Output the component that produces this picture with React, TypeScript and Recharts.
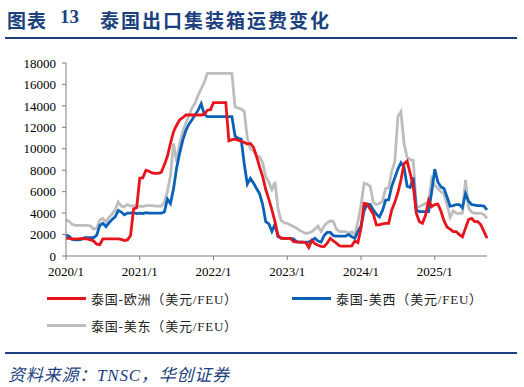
import { CartesianGrid, Line, LineChart, XAxis, YAxis } from "recharts";

// half-month steps from 2020/1 (t = months since 2020/1)
const STEP = 0.5;

const europe = [
  1650, 1650, 1600, 1600, 1600, 1650, 1600, 1600, 1500, 1400, 1100, 1050,
  1600, 1600, 1600, 1600, 1600, 1600, 1550, 1450, 1500, 1900, 4400, 4500,
  7250, 7300, 8000, 7900, 7750, 7700, 7700, 7800, 8500, 9300, 10500, 11600,
  12200, 12700, 12900, 13150, 13150, 13150, 13150, 13150, 13150, 13200, 13600, 13650,
  14300, 14300, 14300, 14300, 14300, 10750, 10850, 10900, 10800, 10700, 10600, 10450,
  10500, 10150, 9300, 8300, 7400, 6200, 5300, 4300, 3200, 1900, 1650, 1650,
  1650, 1650, 1350, 1300, 1300, 1300, 1250, 800, 1450, 1150, 1000, 900,
  880, 1200, 1650, 1400, 1200, 950, 930, 930, 930, 950, 1400, 1250,
  2600, 4900, 4850, 4350, 3900, 2900, 2900, 3000, 3050, 3050, 4300, 5000,
  5900, 7100, 8600, 8850, 7700, 6500, 4000, 3200, 3050, 3800, 5200, 4600,
  4800, 4850, 4200, 3300, 2700, 2500, 2270, 2270, 2000, 1800, 2600, 3400,
  3500, 3200, 3200, 2900, 2300, 1650,
];

const usWest = [
  1950, 1850, 1550, 1500, 1500, 1550, 1700, 1700, 1700, 1700, 1950, 2850,
  3050, 2750, 3100, 3400, 3650, 4250, 4100, 3850, 4000, 4000, 4050, 3950,
  4000, 3950, 4050, 4000, 4000, 4000, 4000, 4000, 4100, 5300, 4900, 6300,
  8200, 9600, 10800, 11700, 12300, 12700, 13150, 13600, 14200, 13200, 12990, 12990,
  12990, 12990, 12990, 12990, 12990, 12990, 12990, 11200, 10970, 10900, 8600, 6700,
  7250, 6800, 6300, 5800, 4800, 3200, 3000, 2300, 2950, 1800, 1700, 1650,
  1650, 1650, 1600, 1350, 1300, 1300, 1300, 1300, 1450, 1650, 1400, 1300,
  1900, 2200, 2200, 1900, 1860, 1860, 1860, 1860, 2000, 1800, 1650, 2300,
  2800, 4200, 4850, 4800, 4300, 3900, 3650, 4250, 5200, 5250, 6500, 7300,
  8100, 8700, 8300, 6500, 6400, 7300, 4300, 4130, 4130, 4130, 4130, 6000,
  8100, 6900, 6450, 6300, 5500, 4650, 4700, 4800, 4800, 4500, 5800, 5100,
  4800, 4750, 4700, 4700, 4650, 4300,
];

const usEast = [
  3350, 3250, 2950, 2850, 2850, 2850, 2850, 2850, 2800, 2500, 2600, 3350,
  3500, 3200, 3600, 3900, 4300, 5050, 4650, 4600, 4800, 4650, 4700, 4650,
  4650, 4600, 4700, 4700, 4700, 4650, 4650, 4650, 5000, 6000, 7500, 10500,
  8800, 10500, 11600, 12400, 13100, 13800, 14250, 15000, 15600, 16200, 17040, 17040,
  17040, 17040, 17040, 17040, 17040, 17040, 17040, 13900, 13800, 13700, 13500, 11000,
  10000, 9800, 9300, 9250, 8700, 7400, 6900, 6200, 6900, 4400, 3300, 3100,
  3050, 2900, 2750, 2600, 2400, 2250, 2100, 2150, 2270, 2500, 2800, 2300,
  2800, 3100, 3290, 3200, 2500, 2270, 2270, 2270, 2150, 2250, 2000, 3200,
  4700, 6800, 6700, 6500, 5000, 4800, 4900, 5100, 6300, 6350, 7900, 8800,
  12990, 13460, 10500, 9200, 9000, 8900, 4600, 4600, 4750, 4900, 4950, 7200,
  6600, 6300, 6000, 5800, 4800, 3600, 4200, 4000, 3950, 4000, 7100, 4500,
  4100, 3980, 3980, 3980, 3850, 3500,
];

const xTicks = [0, 12, 24, 36, 48, 60];
const xTickLabels = ["2020/1", "2021/1", "2022/1", "2023/1", "2024/1", "2025/1"];
const yTicks = [0, 2000, 4000, 6000, 8000, 10000, 12000, 14000, 16000, 18000];

const seriesNames = [
  "泰国-欧洲（美元/FEU）",
  "泰国-美西（美元/FEU）",
  "泰国-美东（美元/FEU）",
];

const RED = "#e8141c";
const BLUE = "#0a62b8";
const GREY = "#bdbdbd";
const NAVY = "#1c3f7e";

const data = europe.map((v, i) => ({
  t: i * STEP,
  europe: v,
  usWest: usWest[i],
  usEast: usEast[i],
}));

const serif = "'Liberation Serif', 'Times New Roman', 'Noto Sans CJK SC', serif";

function LegendItem({ color, label, left, top }: { color: string; label: string; left: number; top: number }) {
  return (
    <div style={{ position: "absolute", left, top, display: "flex", alignItems: "center", height: 16 }}>
      <div style={{ width: 39, height: 3, background: color, marginRight: 5 }} />
      <span style={{ fontFamily: serif, fontSize: 13, letterSpacing: 0.8, color: "#222", whiteSpace: "nowrap" }}>{label}</span>
    </div>
  );
}

export default function App() {
  return (
    <div
      style={{
        position: "absolute",
        left: 0,
        top: 0,
        width: 524,
        height: 387,
        background: "#fff",
        overflow: "hidden",
      }}
    >
      <div style={{ position: "absolute", left: 7, top: 6, fontFamily: serif, fontWeight: 700, fontSize: 19, color: NAVY, whiteSpace: "nowrap" }}>
        <span style={{ letterSpacing: 1 }}>图表</span>
        <span style={{ position: "absolute", left: 53, top: 0 }}>13</span>
        <span style={{ position: "absolute", left: 93, top: 0, letterSpacing: 2 }}>泰国出口集装箱运费变化</span>
      </div>
      <div style={{ position: "absolute", left: 5, top: 37, width: 512, height: 2, background: NAVY }} />

      <div style={{ position: "absolute", left: 0, top: 0 }}>
        <LineChart
          width={524}
          height={290}
          data={data}
          margin={{ top: 63, right: 37, left: 6, bottom: 4 }}
        >
          <CartesianGrid horizontal={false} vertical={false} />
          <XAxis
            dataKey="t"
            type="number"
            domain={[0, 68.5]}
            ticks={xTicks}
            tickFormatter={(v: number) => xTickLabels[xTicks.indexOf(v)] ?? ""}
            tick={{ fontSize: 13, fill: "#000", fontFamily: serif }}
            tickSize={4}
            tickMargin={7}
            stroke="#7f7f7f"
            height={30}
            interval={0}
          />
          <YAxis
            domain={[0, 18000]}
            ticks={yTicks}
            tick={{ fontSize: 13, fill: "#000", fontFamily: serif }}
            tickSize={4}
            tickMargin={6}
            stroke="#7f7f7f"
            width={60}
            interval={0}
          />
          <Line dataKey="usEast" stroke={GREY} strokeWidth={2.8} dot={false} type="linear" isAnimationActive={false} />
          <Line dataKey="usWest" stroke={BLUE} strokeWidth={2.8} dot={false} type="linear" isAnimationActive={false} />
          <Line dataKey="europe" stroke={RED} strokeWidth={2.8} dot={false} type="linear" isAnimationActive={false} />
        </LineChart>
      </div>

      <LegendItem color={RED} label={seriesNames[0]} left={47} top={290} />
      <LegendItem color={BLUE} label={seriesNames[1]} left={292} top={290} />
      <LegendItem color={GREY} label={seriesNames[2]} left={47} top={317} />

      <div style={{ position: "absolute", left: 5, top: 352, width: 512, height: 2, background: NAVY }} />
      <div style={{ position: "absolute", left: 8, top: 361, fontFamily: serif, fontStyle: "italic", fontSize: 17, letterSpacing: 0.8, color: NAVY, whiteSpace: "nowrap" }}>
        资料来源：TNSC，华创证券
      </div>
    </div>
  );
}
